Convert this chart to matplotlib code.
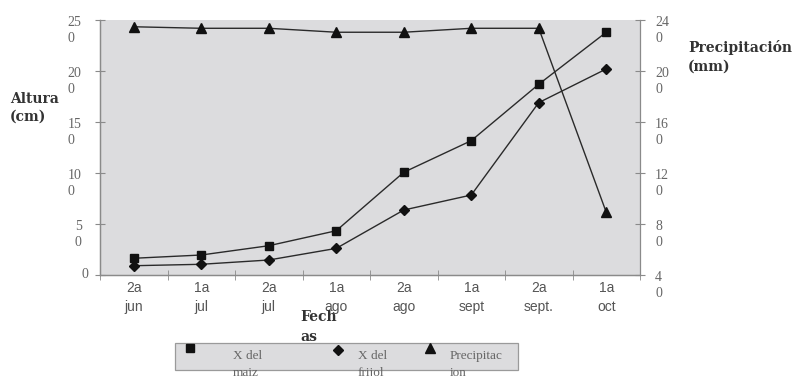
import numpy as np
import matplotlib
matplotlib.use('Agg')
import matplotlib.pyplot as plt
from matplotlib.lines import Line2D
from matplotlib.patches import Rectangle
from matplotlib.transforms import ScaledTranslation

# fechas de muestreo
fechas = ['2a\njun', '1a\njul', '2a\njul', '1a\nago', '2a\nago', '1a\nsept', '2a\nsept.', '1a\noct']
# altura promedio (cm)
maiz = [16.4, 19.6, 28.7, 43.4, 100.7, 131.7, 187, 238]
frijol = [9.1, 10.5, 14.7, 26.1, 63.7, 78.4, 169, 202]
# precipitacion (mm)
precip = [234.7, 233.5, 233.5, 230.4, 230.4, 233.5, 233.5, 89.2]

yticks_izq = [0, 50, 100, 150, 200, 250]
yticks_der = [40, 80, 120, 160, 200, 240]

gris = '#dcdcde'
eje = '#8a8a8a'
txt = '#666666'

fig = plt.figure(figsize=(8.08, 3.76), dpi=100)
ax = fig.add_axes([100/808, 101/376, 540/808, 255/376])
ax.set_facecolor(gris)
ax2 = ax.twinx()

x = np.arange(len(fechas))
ax.plot(x, maiz, color='#2a2a2a', lw=1.0, marker='s', markersize=6, markerfacecolor='#111', markeredgecolor='#111')
ax.plot(x, frijol, color='#2a2a2a', lw=1.0, marker='D', markersize=5, markerfacecolor='#111', markeredgecolor='#111')
ax2.plot(x, precip, color='#2a2a2a', lw=1.0, marker='^', markersize=7, markerfacecolor='#111', markeredgecolor='#111')

ax.set_xlim(-0.5, len(fechas) - 0.5)
ax.set_ylim(0, 250)
ax2.set_ylim(40, 240)

for a in (ax, ax2):
    for s in a.spines.values():
        s.set_color(eje)
        s.set_linewidth(0.9)
    a.spines['top'].set_visible(False)
ax.spines['right'].set_visible(False)

# eje x: etiquetas centradas, marcas entre categorias
ax.set_xticks(x)
ax.set_xticklabels(fechas, fontsize=10, color='#555555', family='Liberation Sans', linespacing=1.45)
ax.set_xticks(np.arange(-0.5, len(fechas)), minor=True)
ax.tick_params(axis='x', which='major', length=0, pad=4)
ax.tick_params(axis='x', which='minor', length=7, direction='inout', color=eje)

ax.set_yticks(yticks_izq)
ax.set_yticklabels([])
ax.tick_params(axis='y', length=7, direction='inout', color=eje)
ax2.set_yticks(yticks_der)
ax2.set_yticklabels([])
ax2.tick_params(axis='y', length=7, direction='inout', color=eje)

# etiquetas partidas en dos renglones, el primero a la altura de la marca
baja = ScaledTranslation(0, 3/72, fig.dpi_scale_trans)
for v in yticks_izq:
    s = str(v)
    if len(s) == 1:
        ax.text(-0.022, v, s, transform=ax.get_yaxis_transform(), ha='right', va='center',
                fontsize=10, color=txt, family='Liberation Serif')
    else:
        ax.text(-0.034, v, s[:-1] + '\n' + s[-1], transform=ax.get_yaxis_transform() + baja,
                ha='right', va='top', fontsize=10, color=txt, family='Liberation Serif',
                linespacing=1.35, multialignment='left' if len(s) > 2 else 'right')
for v in yticks_der:
    s = str(v)
    ax2.text(1.028, v, s[:-1] + '\n' + s[-1], transform=ax2.get_yaxis_transform() + baja,
             ha='left', va='top', fontsize=10, color=txt, family='Liberation Serif',
             linespacing=1.35, multialignment='left')

fig.text(10/808, 1 - 92/376, 'Altura\n(cm)', ha='left', va='top', fontsize=10, fontweight='bold',
         family='DejaVu Serif', color='#333333', linespacing=1.3)
fig.text(688/808, 1 - 40/376, 'Precipitación\n(mm)', ha='left', va='top', fontsize=10, fontweight='bold',
         family='DejaVu Serif', color='#333333', linespacing=1.45)
fig.text(300/808, 1 - 310/376, 'Fech\nas', ha='left', va='top', fontsize=10, fontweight='bold',
         family='DejaVu Serif', color='#333333', linespacing=1.55)

# leyenda dibujada a mano
fig.patches.append(Rectangle((175/808, 1 - 370/376), 343/808, 27/376, transform=fig.transFigure,
                             facecolor=gris, edgecolor='#9a9a9a', lw=0.9, zorder=0))
items = [('s', 6, 190, 348, 233, 'X del\nmaiz'),
         ('D', 5, 338, 350, 358, 'X del\nfrijol'),
         ('^', 7, 430, 348, 450, 'Precipitac\nion')]
for m, ms, mx, my, tx, lab in items:
    fig.lines.append(Line2D([mx/808], [1 - my/376], transform=fig.transFigure, marker=m, markersize=ms,
                            color='#111', linestyle='None'))
    fig.text(tx/808, 1 - 350/376, lab, ha='left', va='top', fontsize=9.5, color=txt,
             family='Liberation Serif', linespacing=1.55)

fig.savefig('out.png', dpi=100)
